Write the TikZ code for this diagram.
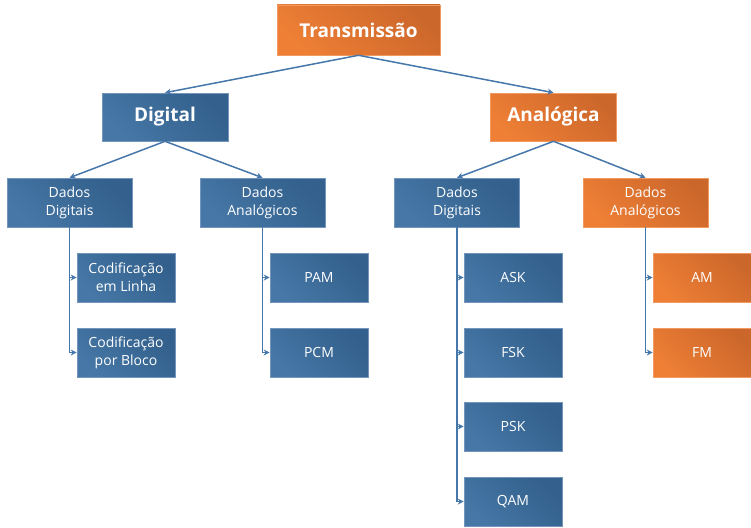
\documentclass[tikz,border=0pt]{standalone}
\usepackage{fontspec}
\setmainfont{Open Sans}
\usetikzlibrary{arrows.meta}
\definecolor{blueA}{HTML}{4677A6}
\definecolor{blueB}{HTML}{33608C}
\definecolor{blueline}{HTML}{7496BC}
\definecolor{orangeA}{HTML}{EE7F35}
\definecolor{orangeB}{HTML}{CC672B}
\definecolor{orangeline}{HTML}{F09A62}
\definecolor{wire}{HTML}{4677AA}
\begin{document}
\begin{tikzpicture}[x=1pt,y=-1pt,
  bluebox/.style={draw=blueline,line width=0.6pt,left color=blueA,right color=blueB,shading angle=135,text=white,align=center,font=\fontsize{14}{18}\selectfont},
  orangebox/.style={draw=orangeline,line width=0.6pt,left color=orangeA,right color=orangeB,shading angle=135,text=white,align=center,font=\fontsize{14}{18}\selectfont},
  top/.style={minimum width=163pt,minimum height=50pt,font=\fontsize{19}{22}\selectfont\bfseries},
  mid/.style={minimum width=126pt,minimum height=48pt,font=\fontsize{19}{22}\selectfont\bfseries},
  sub/.style={minimum width=125pt,minimum height=49pt,inner sep=1pt},
  leaf/.style={minimum width=98pt,minimum height=49pt,inner sep=1pt},
  arr/.style={draw=wire,line width=1.5pt,-{Stealth[length=6pt,width=6pt]}}]
  \useasboundingbox (0,0) rectangle (751,527);
  % first two levels
  \node[orangebox,top] (trans) at (358.5,30) {Transmissão};
  \node[bluebox,mid] (digital) at (165,117) {Digital};
  \node[orangebox,mid] (analog) at (553.5,117) {Analógica};
  \node[bluebox,sub] (ddig) at (69.5,202.5) {Dados\\Digitais};
  \node[bluebox,sub] (dana) at (262.5,202.5) {Dados\\Analógicos};
  \node[bluebox,sub] (adig) at (457,202.5) {Dados\\Digitais};
  \node[orangebox,sub] (aana) at (645.5,202.5) {Dados\\Analógicos};
  % leaves
  \node[bluebox,leaf] (codlin) at (126,277.5) {Codificação\\em Linha};
  \node[bluebox,leaf] (codblo) at (126,352.5) {Codificação\\por Bloco};
  \node[bluebox,leaf] (pam) at (319,277.5) {PAM};
  \node[bluebox,leaf] (pcm) at (319,352.5) {PCM};
  \node[bluebox,leaf] (ask) at (513,277.5) {ASK};
  \node[bluebox,leaf] (fsk) at (513,352.5) {FSK};
  \node[bluebox,leaf] (psk) at (513,426.5) {PSK};
  \node[bluebox,leaf] (qam) at (513,501.5) {QAM};
  \node[orangebox,leaf] (am) at (702,277.5) {AM};
  \node[orangebox,leaf] (fm) at (702,352.5) {FM};
  % connectors
  \draw[arr] (trans.south) -- (digital.north);
  \draw[arr] (trans.south) -- (analog.north);
  \draw[arr] (digital.south) -- (ddig.north);
  \draw[arr] (digital.south) -- (dana.north);
  \draw[arr] (analog.south) -- (adig.north);
  \draw[arr] (analog.south) -- (aana.north);
  \draw[arr] (ddig.south) |- (codlin.west);
  \draw[arr] (ddig.south) |- (codblo.west);
  \draw[arr] (dana.south) |- (pam.west);
  \draw[arr] (dana.south) |- (pcm.west);
  \foreach \n in {ask,fsk,psk,qam}
    \draw[arr] (adig.south) |- (\n.west);
  \draw[arr] (aana.south) |- (am.west);
  \draw[arr] (aana.south) |- (fm.west);
\end{tikzpicture}
\end{document}
